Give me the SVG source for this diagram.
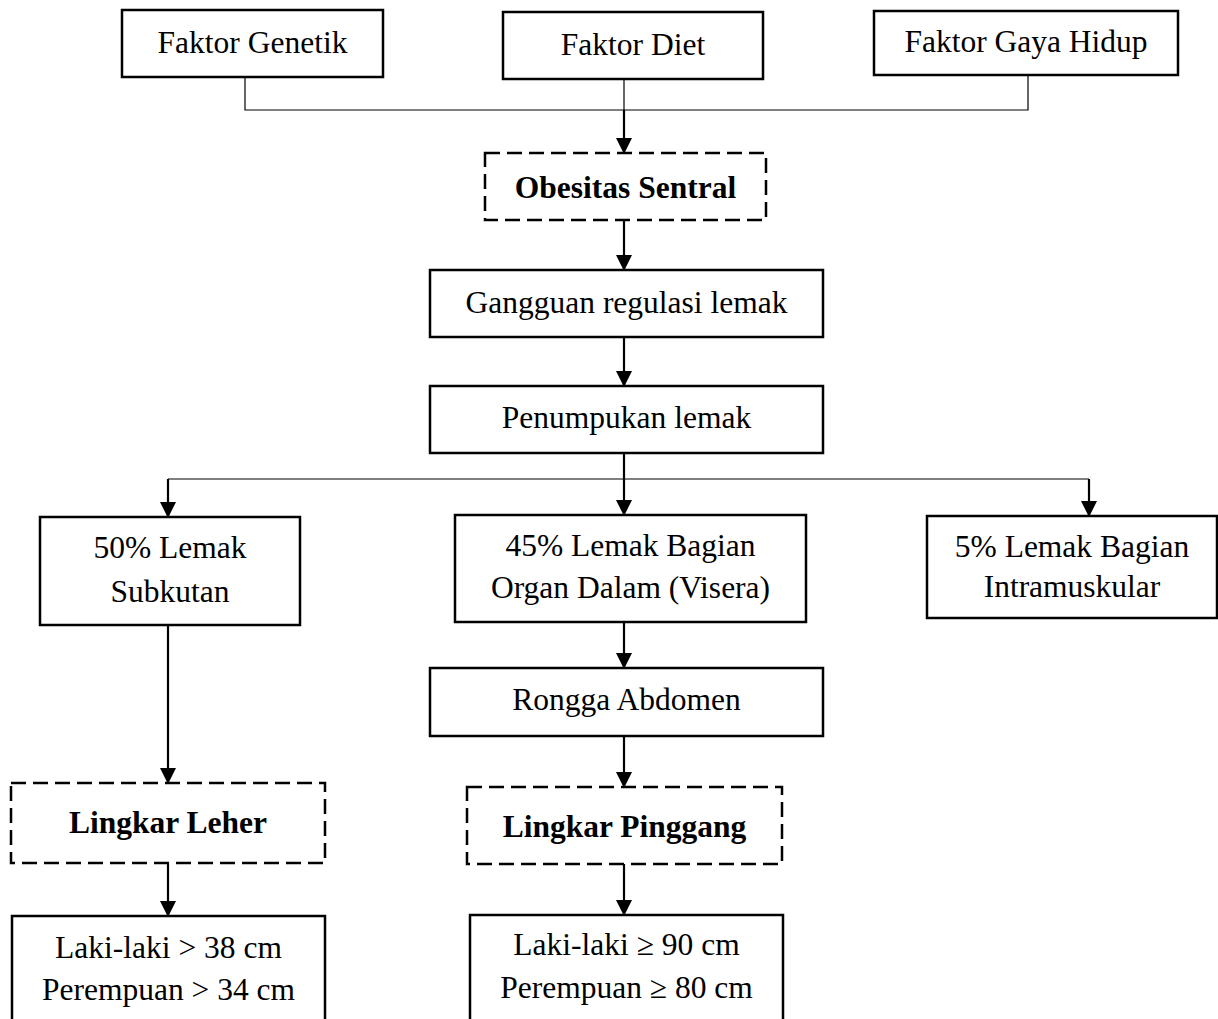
<svg xmlns="http://www.w3.org/2000/svg" width="1218" height="1019" viewBox="0 0 1218 1019">
<style>
.box{fill:#fff;stroke:#000;stroke-width:2.5}
.dash{fill:#fff;stroke:#000;stroke-width:2.5;stroke-dasharray:15 7}
.thin{fill:none;stroke:#000;stroke-width:1.2}
.arr{fill:none;stroke:#000;stroke-width:2.2;marker-end:url(#ah)}
text{font-family:"Liberation Serif","Times New Roman",serif;font-size:31.5px;fill:#000;text-anchor:middle}
.b{font-weight:bold}
</style>
<defs>
<marker id="ah" markerUnits="userSpaceOnUse" markerWidth="16" markerHeight="16" viewBox="0 0 16 16" refX="15" refY="8" orient="auto">
<path d="M0,0 L16,8 L0,16 Z" fill="#000"/>
</marker>
</defs>
<rect width="1218" height="1019" fill="#fff"/>
<g id="connectors">
<path class="thin" d="M245,77 V110 H1028 V75"/>
<path class="thin" d="M624,79 V110"/>
<path class="thin" d="M168,479 H1089"/>
<path class="arr" d="M624,110 V153"/>
<path class="arr" d="M624,220 V270"/>
<path class="arr" d="M624,337 V386"/>
<path class="arr" d="M624,453 V515"/>
<path class="arr" d="M168,479 V517"/>
<path class="arr" d="M1089,479 V516"/>
<path class="arr" d="M624,622 V668"/>
<path class="arr" d="M168,625 V783"/>
<path class="arr" d="M624,736 V787"/>
<path class="arr" d="M168,863 V916"/>
<path class="arr" d="M624,864 V915"/>
</g>
<g id="n-genetik"><rect class="box" x="122" y="10" width="261" height="67"/><text x="252.5" y="53">Faktor Genetik</text></g>
<g id="n-diet"><rect class="box" x="503" y="12" width="260" height="67"/><text x="633" y="55">Faktor Diet</text></g>
<g id="n-gaya"><rect class="box" x="874" y="11" width="304" height="64"/><text x="1026" y="52">Faktor Gaya Hidup</text></g>
<g id="n-obesitas"><rect class="dash" x="485" y="153" width="281" height="67"/><text class="b" x="625.5" y="198">Obesitas Sentral</text></g>
<g id="n-gangguan"><rect class="box" x="430" y="270" width="393" height="67"/><text x="626.5" y="313">Gangguan regulasi lemak</text></g>
<g id="n-penumpukan"><rect class="box" x="430" y="386" width="393" height="67"/><text x="626.5" y="428">Penumpukan lemak</text></g>
<g id="n-subkutan"><rect class="box" x="40" y="517" width="260" height="108"/><text x="170" y="558">50% Lemak</text><text x="170" y="602">Subkutan</text></g>
<g id="n-visera"><rect class="box" x="455" y="515" width="351" height="107"/><text x="630.5" y="556">45% Lemak Bagian</text><text x="630.5" y="598">Organ Dalam (Visera)</text></g>
<g id="n-intramuskular"><rect class="box" x="927" y="516" width="290" height="102"/><text x="1072" y="557">5% Lemak Bagian</text><text x="1072" y="597">Intramuskular</text></g>
<g id="n-rongga"><rect class="box" x="430" y="668" width="393" height="68"/><text x="626.5" y="710">Rongga Abdomen</text></g>
<g id="n-leher"><rect class="dash" x="11" y="783" width="314" height="80"/><text class="b" x="168" y="833">Lingkar Leher</text></g>
<g id="n-pinggang"><rect class="dash" x="467" y="787" width="315" height="77"/><text class="b" x="624.5" y="837">Lingkar Pinggang</text></g>
<g id="n-leher-nilai"><rect class="box" x="12" y="916" width="313" height="120"/><text x="168.5" y="958">Laki-laki &gt; 38 cm</text><text x="168.5" y="1000">Perempuan &gt; 34 cm</text></g>
<g id="n-pinggang-nilai"><rect class="box" x="470" y="915" width="313" height="120"/><text x="626.5" y="955">Laki-laki ≥ 90 cm</text><text x="626.5" y="998">Perempuan ≥ 80 cm</text></g>
</svg>
